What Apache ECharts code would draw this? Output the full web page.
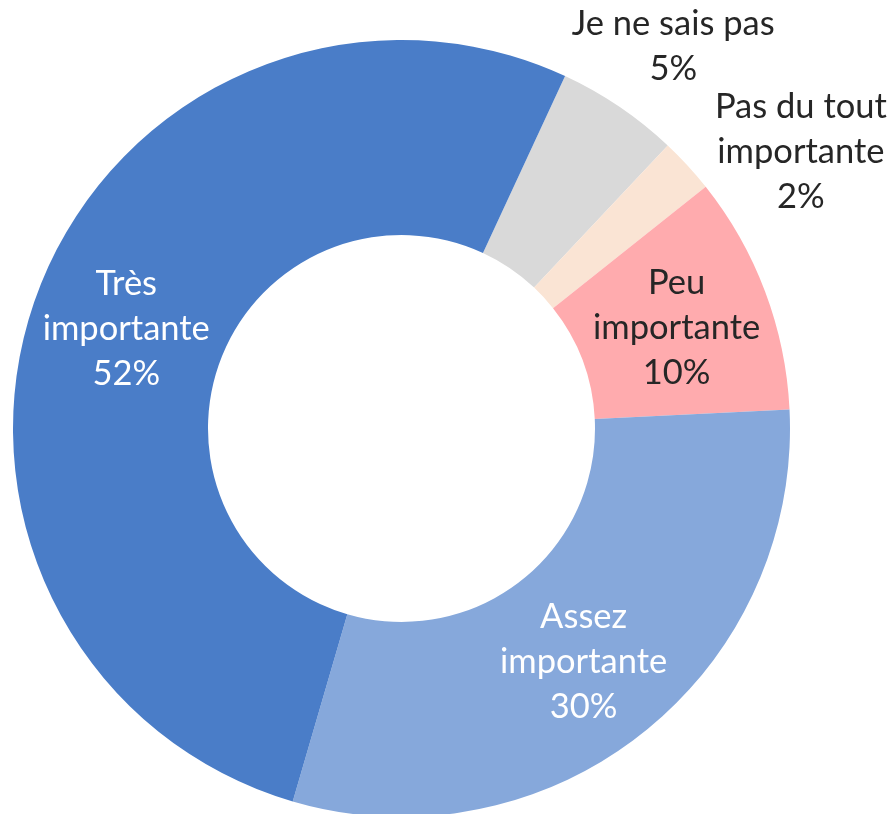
<!DOCTYPE html>
<html>
<head>
<meta charset="utf-8">
<script src="https://cdn.jsdelivr.net/npm/echarts@6/dist/echarts.min.js"></script>
<style>
  html, body { margin: 0; padding: 0; background: #fff; }
  #chart { width: 891px; height: 814px; }
</style>
</head>
<body>
<div id="chart"></div>
<script>
// slices, clockwise from the top-right
let names = ["Je ne sais pas", "Pas du tout\nimportante", "Peu\nimportante", "Assez\nimportante", "Très\nimportante"];
let values = [5.1, 2.3, 9.9, 30.3, 52.4];
let colors = ["#D9D9D9", "#FAE4D4", "#FFABAE", "#86A8DB", "#4A7DC8"];
let labelColors = ["#262626", "#262626", "#262626", "#ffffff", "#ffffff"];
// the two thin slices have their labels pushed outside the ring
let labelShift = [[107, -139], [183, -78], [0, 3], [0, 3], [0, 4]];

let chart = echarts.init(document.getElementById("chart"));

let pieData = names.map(function(n, i) {
  return {
    name: n,
    value: values[i],
    itemStyle: { color: colors[i] },
    label: { color: labelColors[i] }
  };
});

let option = {
  animation: false,
  series: [
    {
      type: "pie",
      center: [401.5, 428.5],
      radius: [193.5, 388.5],
      startAngle: 65.1,
      clockwise: true,
      avoidLabelOverlap: false,
      emphasis: { disabled: true },
      itemStyle: { borderWidth: 0 },
      label: {
        show: true,
        position: "inside",
        fontFamily: "Lato",
        fontSize: 34.5,
        lineHeight: 45,
        align: "center",
        formatter: function(p) {
          return p.name + "\n" + Math.round(p.percent) + "%";
        }
      },
      labelLine: { show: false },
      labelLayout: function(p) {
        let s = labelShift[p.dataIndex];
        return { dx: s[0], dy: s[1] };
      },
      data: pieData
    }
  ]
};
chart.setOption(option);
</script>
</body>
</html>
